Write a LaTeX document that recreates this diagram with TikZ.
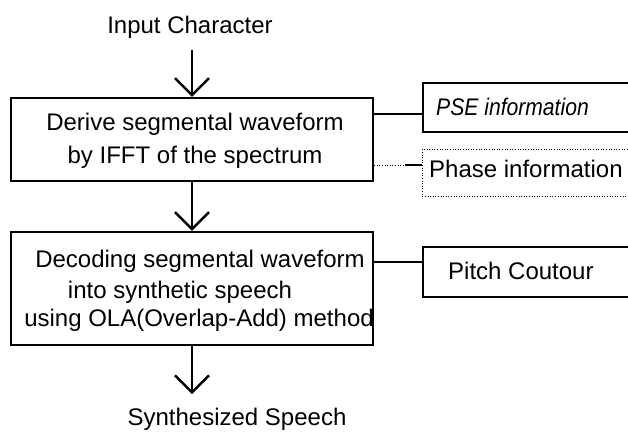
\documentclass[tikz,border=0pt]{standalone}
\usepackage{fontspec}
\setmainfont{Liberation Sans}
\newfontfamily\narrowface[FakeStretch=0.88]{Liberation Sans}
\usetikzlibrary{arrows.meta,calc}
\begin{document}
\begin{tikzpicture}[x=1pt,y=-1pt,
  txt/.style={font=\fontsize{24}{28}\selectfont, inner sep=0pt, anchor=base},
  procbox/.style={draw, line width=2.4pt, rectangle, inner sep=0pt},
  sidebox/.style={draw, line width=2.4pt, rectangle, inner sep=0pt, anchor=north west},
  dotbox/.style={draw, line width=0.9pt, dash pattern=on 1pt off 1.6pt, rectangle, inner sep=0pt, anchor=north west},
  flow/.style={line width=2pt, -{Straight Barb[length=17pt,width=34pt,line width=2.4pt]}},
  link/.style={line width=2.4pt},
  dotlink/.style={line width=0.9pt, dash pattern=on 1pt off 1.6pt}]

\useasboundingbox (0,0) rectangle (628,431);
\clip (0,0) rectangle (628,431);

% main processing blocks
\node[procbox, minimum width=362pt, minimum height=83pt] (b1) at (192,139.5) {};
\node[procbox, minimum width=362pt, minimum height=113pt] (b2) at (192,288.5) {};

% side information blocks (running off the right edge)
\node[sidebox, minimum width=230pt, minimum height=49pt] (pse) at (422,82) {};
\node[dotbox, minimum width=230pt, minimum height=47pt] (phase) at (422,149) {};
\node[sidebox, minimum width=230pt, minimum height=50pt] (pitch) at (422,246) {};

% texts
\node[txt] (tin) at (190,33) {Input Character};
\node[txt] (t11) at (195,130) {Derive segmental waveform};
\node[txt] (t12) at (195,163) {by IFFT of the spectrum};
\node[txt] (t21) at (200,267) {Decoding segmental waveform};
\node[txt] (t22) at (180,298) {into synthetic speech};
\node[txt] (t23) at (199,326) {using OLA(Overlap-Add) method};
\node[txt, anchor=base west] (tpse) at (436,115) {\narrowface\itshape PSE information};
\node[txt, anchor=base west] (tphase) at (429,177) {Phase information};
\node[txt, anchor=base west] (tpitch) at (448,279) {Pitch Coutour};
\node[txt] (tout) at (237,425) {Synthesized Speech};

% vertical flow
\coordinate (a0) at (192,50);
\coordinate (a3) at (192,394);
\draw[flow] (a0) -- (b1.north);
\draw[flow] (b1.south) -- (b2.north);
\draw[flow] (b2.south) -- (a3);

% side connections
\draw[link] (b1.east |- 0,114) -- (pse.west |- 0,114);
\coordinate (pj) at (405,165);
\draw[dotlink] (b1.east |- pj) -- (pj);
\draw[link] (pj) -- (phase.west |- pj);
\draw[link] (b2.east |- 0,262) -- (pitch.west |- 0,262);
\end{tikzpicture}
\end{document}
